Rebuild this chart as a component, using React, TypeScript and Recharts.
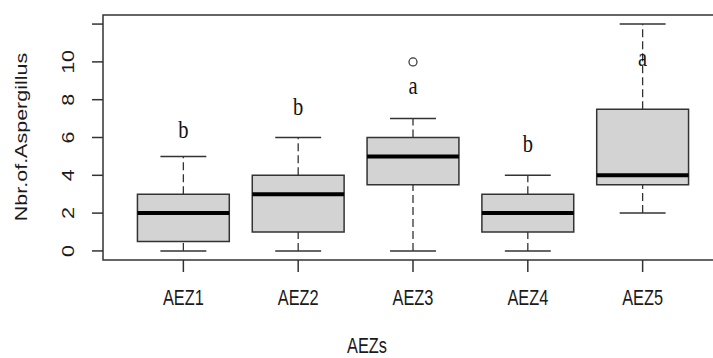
import { ComposedChart, XAxis, YAxis, Scatter, ReferenceArea, ReferenceLine } from 'recharts';

// boxplot stats per agro-ecological zone
const zones = ['AEZ1', 'AEZ2', 'AEZ3', 'AEZ4', 'AEZ5'];
const whiskerLow = [0, 0, 0, 0, 2];
const q1 = [0.5, 1, 3.5, 1, 3.5];
const median = [2, 3, 5, 2, 4];
const q3 = [3, 4, 6, 3, 7.5];
const whiskerHigh = [5, 6, 7, 4, 12];
const outlierZone = [3];
const outlierValue = [10];
const groupLetters = ['b', 'b', 'a', 'b', 'a'];
const letterY = [6.0, 7.2, 8.3, 5.25, 9.8];
const yTicks = [0, 2, 4, 6, 8, 10, 12];
const xDomain = [0.3, 5.7];
const yDomain = [-0.48, 12.48];

const SANS = "'Liberation Sans', Arial, sans-serif";
const SERIF = "'Liberation Serif', 'Times New Roman', serif";
const INK = '#1a1a1a';
const LINE = '#333';

const boxes = zones.map((name, i) => ({
  x: i + 1, name, lo: whiskerLow[i], q1: q1[i], med: median[i], q3: q3[i], hi: whiskerHigh[i],
}));
const outliers = outlierZone.map((z, i) => ({ x: z, y: outlierValue[i] }));
const letters = groupLetters.map((l, i) => ({ x: i + 1, y: letterY[i], letter: l }));

const XTick = ({ x, y, payload }: any) => (
  <g transform={`translate(${x},${y + 31}) scale(0.76,1)`}>
    <text textAnchor="middle" fontFamily={SANS} fontSize={21.5} fill={INK}>
      {zones[payload.value - 1]}
    </text>
  </g>
);

const YTick = ({ x, y, payload }: any) =>
  payload.value === 12 ? <g /> : (
    <g transform={`translate(${x - 22},${y}) scale(0.76,1) rotate(-90)`}>
      <text textAnchor="middle" dy="0.35em" fontFamily={SANS} fontSize={21.5} fill={INK}>
        {payload.value}
      </text>
    </g>
  );

export default function App() {
  return (
    <div style={{ position: 'absolute', left: 0, top: 0, width: 713, height: 358, overflow: 'hidden', background: '#fff' }}>
      <ComposedChart width={723} height={358} margin={{ top: 15, right: 0, bottom: 0, left: 0 }}>
        <XAxis
          type="number"
          dataKey="x"
          domain={xDomain}
          ticks={[1, 2, 3, 4, 5]}
          allowDataOverflow
          height={98}
          axisLine={false}
          tickLine={{ stroke: LINE, strokeWidth: 1.5 }}
          tickSize={12}
          tick={(p: any) => <XTick {...p} />}
        />
        <YAxis
          type="number"
          dataKey="y"
          domain={yDomain}
          ticks={yTicks}
          allowDataOverflow
          width={103}
          axisLine={false}
          tickLine={{ stroke: LINE, strokeWidth: 1.5 }}
          tickSize={11}
          tick={(p: any) => <YTick {...p} />}
        />

        {/* plot frame */}
        <ReferenceArea x1={xDomain[0]} x2={xDomain[1]} y1={yDomain[0]} y2={yDomain[1]}
          fill="none" stroke={LINE} strokeWidth={1.5} ifOverflow="visible" />

        {boxes.map(b => (
          <ReferenceLine key={'wl' + b.x} segment={[{ x: b.x, y: b.lo }, { x: b.x, y: b.q1 }]}
            stroke={LINE} strokeWidth={1.3} strokeDasharray="8 4" ifOverflow="visible" />
        ))}
        {boxes.map(b => (
          <ReferenceLine key={'wh' + b.x} segment={[{ x: b.x, y: b.q3 }, { x: b.x, y: b.hi }]}
            stroke={LINE} strokeWidth={1.3} strokeDasharray="8 4" ifOverflow="visible" />
        ))}
        {boxes.map(b => (
          <ReferenceLine key={'cl' + b.x} segment={[{ x: b.x - 0.2, y: b.lo }, { x: b.x + 0.2, y: b.lo }]}
            stroke={LINE} strokeWidth={1.5} ifOverflow="visible" />
        ))}
        {boxes.map(b => (
          <ReferenceLine key={'ch' + b.x} segment={[{ x: b.x - 0.2, y: b.hi }, { x: b.x + 0.2, y: b.hi }]}
            stroke={LINE} strokeWidth={1.5} ifOverflow="visible" />
        ))}
        {boxes.map(b => (
          <ReferenceArea key={'bx' + b.x} x1={b.x - 0.4} x2={b.x + 0.4} y1={b.q1} y2={b.q3}
            fill="#d3d3d3" fillOpacity={1} stroke={LINE} strokeWidth={1.5} ifOverflow="visible" />
        ))}
        {boxes.map(b => (
          <ReferenceLine key={'md' + b.x} segment={[{ x: b.x - 0.4, y: b.med }, { x: b.x + 0.4, y: b.med }]}
            stroke="#000" strokeWidth={4} ifOverflow="visible" />
        ))}

        <Scatter
          data={outliers}
          isAnimationActive={false}
          shape={(p: any) => <circle cx={p.cx} cy={p.cy} r={4} fill="none" stroke={LINE} strokeWidth={1.2} />}
        />
        <Scatter
          data={letters}
          isAnimationActive={false}
          shape={(p: any) => (
            <g transform={`translate(${p.cx},${p.cy}) scale(0.82,1)`}>
              <text textAnchor="middle" fontFamily={SERIF} fontSize={25} fill="#111">{p.payload.letter}</text>
            </g>
          )}
        />
      </ComposedChart>

      <svg width={713} height={358} style={{ position: 'absolute', left: 0, top: 0, pointerEvents: 'none' }}>
        <g transform="translate(367,353) scale(0.76,1)">
          <text textAnchor="middle" fontFamily={SANS} fontSize={21.5} fill={INK}>AEZs</text>
        </g>
        <g transform="translate(27,137) scale(0.76,1) rotate(-90)">
          <text textAnchor="middle" fontFamily={SANS} fontSize={21.5} fill={INK}>Nbr.of.Aspergillus</text>
        </g>
      </svg>
    </div>
  );
}
